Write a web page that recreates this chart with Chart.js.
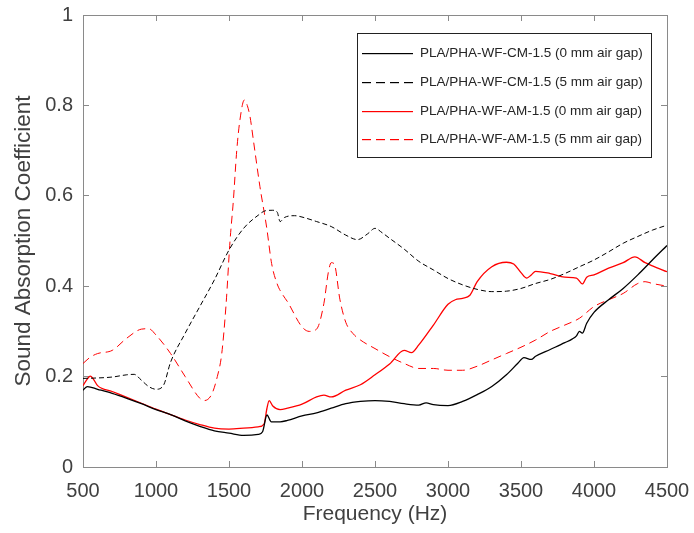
<!DOCTYPE html>
<html>
<head>
<meta charset="utf-8">
<script src="https://cdn.jsdelivr.net/npm/chart.js@4.4.1/dist/chart.umd.min.js"></script>
<style>
  html, body { margin: 0; padding: 0; background: #fff; }
  #wrap { width: 694px; height: 533px; }
</style>
</head>
<body>
<div id="wrap"><canvas id="absChart" width="694" height="533"></canvas></div>
<script>
// frequency ticks / value ticks
const xTickLabels = ['500', '1000', '1500', '2000', '2500', '3000', '3500', '4000', '4500'];
const yTickLabels = ['0', '0.2', '0.4', '0.6', '0.8', '1'];

const seriesNames = [
    'PLA/PHA-WF-CM-1.5 (0 mm air gap)',
    'PLA/PHA-WF-CM-1.5 (5 mm air gap)',
    'PLA/PHA-WF-AM-1.5 (0 mm air gap)',
    'PLA/PHA-WF-AM-1.5 (5 mm air gap)'
];
const seriesColors = ['#000000', '#000000', '#ff0000', '#ff0000'];

// CM, 0 mm air gap
const cmSolidFreq = [500, 530, 600, 700, 800, 900, 1000, 1100, 1200, 1300, 1400, 1500, 1600, 1700, 1730, 1760, 1790, 1850, 1900, 2000, 2100, 2200, 2300, 2400, 2500, 2600, 2700, 2800, 2850, 2900, 3000, 3100, 3200, 3300, 3400, 3480, 3520, 3570, 3600, 3700, 3800, 3850, 3880, 3900, 3920, 3950, 4000, 4100, 4200, 4300, 4400, 4500];
const cmSolidVal = [0.170, 0.178, 0.172, 0.163, 0.152, 0.140, 0.127, 0.116, 0.102, 0.090, 0.080, 0.075, 0.070, 0.072, 0.078, 0.115, 0.100, 0.100, 0.103, 0.113, 0.120, 0.130, 0.140, 0.145, 0.147, 0.145, 0.140, 0.137, 0.142, 0.138, 0.136, 0.145, 0.160, 0.178, 0.204, 0.230, 0.242, 0.238, 0.245, 0.260, 0.275, 0.283, 0.290, 0.300, 0.296, 0.318, 0.342, 0.370, 0.395, 0.425, 0.458, 0.490];

// CM, 5 mm air gap
const cmDashFreq = [500, 600, 700, 800, 850, 900, 950, 1000, 1050, 1100, 1200, 1300, 1400, 1500, 1600, 1700, 1750, 1800, 1830, 1850, 1880, 1950, 2000, 2100, 2200, 2300, 2380, 2450, 2500, 2550, 2600, 2700, 2800, 2900, 3000, 3100, 3200, 3300, 3400, 3500, 3600, 3700, 3800, 3900, 4000, 4100, 4200, 4300, 4400, 4500];
const cmDashVal = [0.196, 0.197, 0.199, 0.204, 0.205, 0.192, 0.178, 0.172, 0.180, 0.232, 0.296, 0.355, 0.414, 0.480, 0.528, 0.557, 0.567, 0.568, 0.564, 0.543, 0.552, 0.556, 0.553, 0.543, 0.532, 0.513, 0.503, 0.516, 0.528, 0.518, 0.506, 0.482, 0.455, 0.436, 0.417, 0.403, 0.393, 0.388, 0.389, 0.395, 0.406, 0.415, 0.428, 0.443, 0.458, 0.476, 0.495, 0.510, 0.524, 0.535];

// AM, 0 mm air gap
const amSolidFreq = [500, 530, 550, 570, 600, 700, 800, 900, 1000, 1100, 1200, 1300, 1400, 1500, 1600, 1700, 1740, 1760, 1775, 1800, 1850, 1900, 2000, 2100, 2150, 2200, 2300, 2400, 2500, 2600, 2700, 2750, 2800, 2900, 3000, 3050, 3100, 3150, 3200, 3300, 3400, 3450, 3500, 3540, 3570, 3600, 3700, 3800, 3880, 3920, 3950, 4000, 4100, 4200, 4280, 4350, 4400, 4500];
const amSolidVal = [0.180, 0.195, 0.201, 0.195, 0.180, 0.167, 0.154, 0.141, 0.128, 0.116, 0.104, 0.094, 0.086, 0.084, 0.086, 0.089, 0.095, 0.130, 0.147, 0.135, 0.127, 0.130, 0.139, 0.155, 0.159, 0.155, 0.170, 0.182, 0.204, 0.228, 0.258, 0.253, 0.270, 0.314, 0.360, 0.370, 0.373, 0.380, 0.410, 0.443, 0.453, 0.449, 0.430, 0.418, 0.425, 0.433, 0.428, 0.420, 0.418, 0.405, 0.420, 0.425, 0.440, 0.452, 0.465, 0.452, 0.445, 0.432];

// AM, 5 mm air gap
const amDashFreq = [500, 550, 600, 700, 800, 900, 950, 1000, 1100, 1200, 1300, 1330, 1380, 1420, 1450, 1480, 1507, 1530, 1553, 1575, 1605, 1625, 1644, 1667, 1712, 1758, 1792, 1830, 1870, 1900, 2000, 2050, 2100, 2150, 2180, 2200, 2220, 2260, 2300, 2350, 2400, 2500, 2600, 2700, 2800, 2900, 3000, 3100, 3200, 3300, 3400, 3500, 3600, 3700, 3800, 3900, 4000, 4100, 4200, 4300, 4350, 4400, 4500];
const amDashVal = [0.229, 0.243, 0.251, 0.258, 0.285, 0.305, 0.306, 0.292, 0.251, 0.200, 0.152, 0.147, 0.160, 0.200, 0.250, 0.360, 0.500, 0.590, 0.700, 0.768, 0.812, 0.800, 0.775, 0.723, 0.620, 0.530, 0.450, 0.405, 0.380, 0.366, 0.310, 0.300, 0.305, 0.362, 0.430, 0.452, 0.450, 0.370, 0.320, 0.295, 0.281, 0.262, 0.244, 0.229, 0.218, 0.218, 0.214, 0.214, 0.223, 0.237, 0.251, 0.265, 0.281, 0.300, 0.314, 0.329, 0.355, 0.370, 0.384, 0.406, 0.410, 0.406, 0.400];

const toPoints = (f, v) => f.map((x, i) => ({ x: x, y: v[i] }));

const TEXT = '#404040';
const AXIS = '#8a8a8a';
const FONT = '"Liberation Sans", Arial, sans-serif';

// legend box drawn inside the plot, like the figure
const boxLegend = {
    id: 'boxLegend',
    afterDraw(chart) {
        const ctx = chart.ctx;
        const x0 = 357.5, y0 = 33.5, w = 294, h = 124;
        ctx.save();
        ctx.setLineDash([]);
        ctx.fillStyle = '#ffffff';
        ctx.fillRect(x0, y0, w, h);
        ctx.strokeStyle = '#222222';
        ctx.lineWidth = 1;
        ctx.strokeRect(x0, y0, w, h);
        ctx.font = '13.5px ' + FONT;
        ctx.textBaseline = 'middle';
        ctx.textAlign = 'left';
        chart.data.datasets.forEach((ds, i) => {
            const y = Math.round(53 + i * 28.8);
            ctx.fillStyle = seriesColors[i];
            if (i % 2) {
                for (let x = 362; x < 413; x += 14) ctx.fillRect(x, y, Math.min(9, 413 - x), 1.2);
            } else {
                ctx.fillRect(362, y, 51, 1.2);
            }
            ctx.fillStyle = '#262626';
            ctx.fillText(ds.label, 420, y + 0.5);
        });
        ctx.restore();
    }
};

// drop the extra room Chart.js keeps for the outer tick labels
function noPad(s) {
    s.paddingLeft = 0; s.paddingRight = 0; s.paddingTop = 0; s.paddingBottom = 0;
}

function boxScale(pos) {
    return {
        type: 'linear',
        position: pos,
        grid: { display: true, drawOnChartArea: false, drawTicks: true, tickLength: -6, color: AXIS },
        border: { display: true, color: AXIS, width: 1 },
        ticks: { display: false }
    };
}

const xMain = {
    type: 'linear',
    position: 'bottom',
    min: 500, max: 4500,
    afterBuildTicks: s => { s.ticks = xTickLabels.map(t => ({ value: Number(t) })); },
    ticks: {
        color: TEXT, font: { family: FONT, size: 20 }, padding: 18, maxRotation: 0,
        callback: (v, i) => xTickLabels[i]
    },
    grid: { drawOnChartArea: false, drawTicks: true, tickLength: -6, color: AXIS },
    border: { color: AXIS, width: 1 },
    title: { display: true, text: 'Frequency (Hz)', color: TEXT, font: { family: FONT, size: 21 }, padding: { top: 0, bottom: 6 } },
    afterFit: s => { s.height = 66; noPad(s); }
};

const yMain = {
    type: 'linear',
    position: 'left',
    min: 0, max: 1,
    afterBuildTicks: s => { s.ticks = yTickLabels.map(t => ({ value: Number(t) })); },
    ticks: {
        color: TEXT, font: { family: FONT, size: 20 }, padding: 16,
        callback: (v, i) => yTickLabels[i]
    },
    grid: { drawOnChartArea: false, drawTicks: true, tickLength: -6, color: AXIS },
    border: { color: AXIS, width: 1 },
    title: { display: true, text: 'Sound Absorption Coefficient', color: TEXT, font: { family: FONT, size: 22.5 }, padding: { top: 10, bottom: 0 } },
    afterFit: s => { s.width = 83; noPad(s); }
};

const xTop = Object.assign(boxScale('top'), {
    min: 500, max: 4500,
    afterBuildTicks: s => { s.ticks = xTickLabels.map(t => ({ value: Number(t) })); },
    afterFit: s => { s.height = 0; noPad(s); }
});
const yRight = Object.assign(boxScale('right'), {
    min: 0, max: 1,
    afterBuildTicks: s => { s.ticks = yTickLabels.map(t => ({ value: Number(t) })); },
    afterFit: s => { s.width = 0; noPad(s); }
});

new Chart(document.getElementById('absChart'), {
    type: 'line',
    data: {
        datasets: [
            { label: seriesNames[0], data: toPoints(cmSolidFreq, cmSolidVal), borderColor: seriesColors[0], borderWidth: 1.3, borderDash: [] },
            { label: seriesNames[1], data: toPoints(cmDashFreq, cmDashVal), borderColor: seriesColors[1], borderWidth: 1, borderDash: [5, 3] },
            { label: seriesNames[2], data: toPoints(amSolidFreq, amSolidVal), borderColor: seriesColors[2], borderWidth: 1.3, borderDash: [] },
            { label: seriesNames[3], data: toPoints(amDashFreq, amDashVal), borderColor: seriesColors[3], borderWidth: 1, borderDash: [8, 5] }
        ]
    },
    options: {
        responsive: false,
        animation: false,
        layout: { padding: { top: 15, right: 27, left: 0, bottom: 0 } },
        elements: {
            point: { radius: 0 },
            line: { cubicInterpolationMode: 'monotone', fill: false }
        },
        plugins: {
            legend: { display: false },
            tooltip: { enabled: false }
        },
        scales: { x: xMain, y: yMain, x2: xTop, y2: yRight }
    },
    plugins: [boxLegend]
});
</script>
</body>
</html>
